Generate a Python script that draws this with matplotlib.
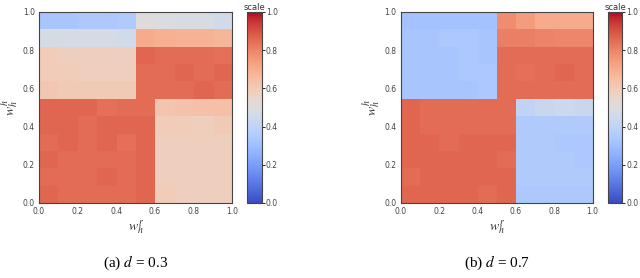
import matplotlib
matplotlib.use("Agg")
import matplotlib.pyplot as plt
import numpy as np

# heatmap values, rows listed top (w_h^h = 1.0) to bottom (w_h^h = 0.0)
scale_d03 = [
    [0.33, 0.33, 0.34, 0.34, 0.35, 0.50, 0.49, 0.48, 0.48, 0.46],
    [0.47, 0.47, 0.47, 0.47, 0.46, 0.70, 0.69, 0.68, 0.68, 0.67],
    [0.59, 0.58, 0.58, 0.58, 0.58, 0.86, 0.85, 0.85, 0.85, 0.84],
    [0.59, 0.59, 0.58, 0.58, 0.58, 0.85, 0.85, 0.86, 0.85, 0.86],
    [0.61, 0.60, 0.60, 0.60, 0.60, 0.85, 0.85, 0.85, 0.86, 0.85],
    [0.86, 0.86, 0.86, 0.84, 0.85, 0.85, 0.62, 0.63, 0.64, 0.64],
    [0.86, 0.86, 0.85, 0.86, 0.86, 0.86, 0.59, 0.59, 0.58, 0.60],
    [0.85, 0.86, 0.85, 0.86, 0.84, 0.86, 0.58, 0.58, 0.58, 0.58],
    [0.86, 0.85, 0.85, 0.85, 0.85, 0.86, 0.58, 0.58, 0.58, 0.58],
    [0.85, 0.85, 0.85, 0.86, 0.85, 0.86, 0.58, 0.58, 0.58, 0.58],
    [0.86, 0.85, 0.85, 0.85, 0.85, 0.86, 0.59, 0.58, 0.58, 0.58],
]

scale_d07 = [
    [0.32, 0.32, 0.32, 0.32, 0.32, 0.78, 0.74, 0.70, 0.70, 0.70],
    [0.33, 0.33, 0.34, 0.34, 0.33, 0.81, 0.81, 0.80, 0.79, 0.79],
    [0.33, 0.33, 0.33, 0.34, 0.33, 0.85, 0.85, 0.85, 0.85, 0.85],
    [0.33, 0.33, 0.33, 0.34, 0.34, 0.85, 0.84, 0.85, 0.86, 0.85],
    [0.33, 0.33, 0.33, 0.33, 0.34, 0.85, 0.85, 0.85, 0.85, 0.85],
    [0.86, 0.85, 0.85, 0.85, 0.85, 0.85, 0.40, 0.43, 0.44, 0.43],
    [0.86, 0.85, 0.85, 0.85, 0.85, 0.85, 0.35, 0.35, 0.35, 0.35],
    [0.86, 0.86, 0.85, 0.86, 0.86, 0.86, 0.35, 0.35, 0.34, 0.34],
    [0.86, 0.86, 0.86, 0.86, 0.86, 0.85, 0.35, 0.35, 0.35, 0.34],
    [0.85, 0.86, 0.86, 0.86, 0.86, 0.86, 0.35, 0.35, 0.35, 0.35],
    [0.86, 0.86, 0.86, 0.86, 0.85, 0.86, 0.34, 0.34, 0.34, 0.34],
]

captions = ["(a) $d$ = 0.3", "(b) $d$ = 0.7"]
ticks = [0.0, 0.2, 0.4, 0.6, 0.8, 1.0]

plt.rcParams["mathtext.fontset"] = "stix"

fig = plt.figure(figsize=(6.4, 2.78), dpi=100)

panels = [
    (scale_d03, [0.061, 0.270, 0.302, 0.687], [0.386, 0.270, 0.023, 0.687], 0.212),
    (scale_d07, [0.626, 0.270, 0.300, 0.687], [0.950, 0.270, 0.022, 0.687], 0.776),
]

for (vals, pos, cpos, cx), cap in zip(panels, captions):
    ax = fig.add_axes(pos)
    im = ax.imshow(np.array(vals), cmap="coolwarm", vmin=0, vmax=1,
                   extent=(0, 1, 0, 1), origin="upper", aspect="auto",
                   interpolation="nearest")
    ax.set_xticks(ticks)
    ax.set_yticks(ticks)
    ax.set_xticklabels([f"{t:.1f}" for t in ticks])
    ax.set_yticklabels([f"{t:.1f}" for t in ticks])
    ax.tick_params(length=0, labelsize=5.5, labelcolor="#444444", pad=3)
    for s in ax.spines.values():
        s.set_color("#444444")
        s.set_linewidth(0.8)
    ax.set_xlabel(r"$w_h^r$", fontsize=10, color="#333333", labelpad=2)
    ax.set_ylabel(r"$w_h^h$", fontsize=10, color="#333333", labelpad=1)

    cax = fig.add_axes(cpos)
    cb = fig.colorbar(im, cax=cax, ticks=ticks)
    cb.ax.set_yticklabels([f"{t:.1f}" for t in ticks])
    cb.ax.tick_params(labelsize=5.5, labelcolor="#444444", length=2, width=0.6, pad=1)
    cb.outline.set_edgecolor("#444444")
    cb.outline.set_linewidth(0.8)
    cb.ax.set_title("scale", fontsize=6, color="#333333", pad=1)

    fig.text(cx, 0.054, cap, ha="center", va="center", fontsize=11,
             family="Liberation Serif")

fig.savefig("out.png", dpi=100)
